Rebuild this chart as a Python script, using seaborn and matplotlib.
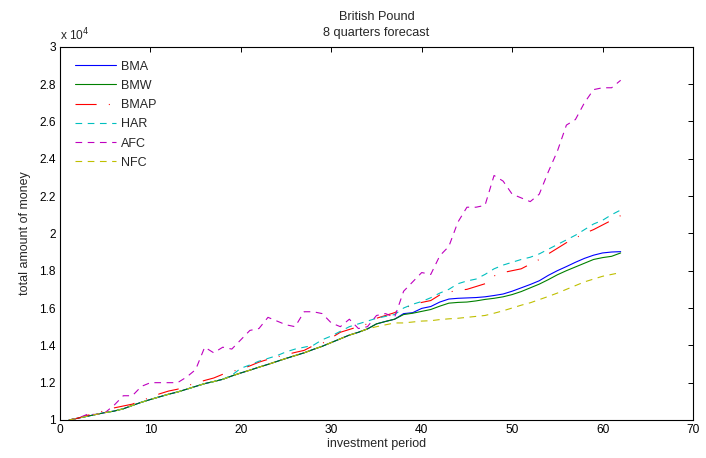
import numpy as np
import pandas as pd
import matplotlib
matplotlib.use("Agg")
import matplotlib.pyplot as plt
import seaborn as sns

# ---- data (total amount of money, per investment period) ----
period = list(range(1, 63))

BMA = [1.000, 1.010, 1.020, 1.030, 1.040, 1.048, 1.060, 1.078, 1.095, 1.110,
       1.124, 1.138, 1.150, 1.165, 1.180, 1.195, 1.206, 1.218, 1.236, 1.252,
       1.267, 1.283, 1.298, 1.314, 1.330, 1.345, 1.360, 1.378, 1.395, 1.415,
       1.435, 1.455, 1.470, 1.488, 1.515, 1.528, 1.540, 1.570, 1.575, 1.598,
       1.608, 1.632, 1.648, 1.652, 1.654, 1.656, 1.660, 1.667, 1.675, 1.690,
       1.708, 1.726, 1.746, 1.775, 1.800, 1.822, 1.845, 1.866, 1.883, 1.895,
       1.900, 1.902]

BMW = [1.000, 1.010, 1.020, 1.030, 1.040, 1.048, 1.060, 1.078, 1.095, 1.110,
       1.124, 1.138, 1.150, 1.165, 1.180, 1.195, 1.206, 1.218, 1.236, 1.252,
       1.267, 1.283, 1.298, 1.314, 1.330, 1.345, 1.360, 1.378, 1.395, 1.415,
       1.435, 1.455, 1.470, 1.488, 1.515, 1.528, 1.540, 1.565, 1.572, 1.582,
       1.592, 1.610, 1.626, 1.630, 1.632, 1.638, 1.646, 1.652, 1.660, 1.672,
       1.688, 1.708, 1.728, 1.752, 1.778, 1.800, 1.820, 1.840, 1.860, 1.870,
       1.877, 1.895]

BMAP = [1.000, 1.010, 1.025, 1.035, 1.052, 1.065, 1.075, 1.085, 1.105, 1.120,
        1.140, 1.155, 1.165, 1.182, 1.198, 1.212, 1.225, 1.245, 1.260, 1.272,
        1.290, 1.310, 1.325, 1.338, 1.350, 1.362, 1.373, 1.398, 1.410, 1.440,
        1.470, 1.485, 1.500, 1.515, 1.545, 1.560, 1.575, 1.600, 1.615, 1.630,
        1.640, 1.670, 1.685, 1.695, 1.700, 1.715, 1.730, 1.772, 1.790, 1.800,
        1.810, 1.835, 1.860, 1.890, 1.920, 1.950, 1.975, 2.000, 2.020, 2.045,
        2.070, 2.095]

HAR = [1.000, 1.010, 1.020, 1.030, 1.040, 1.048, 1.060, 1.078, 1.095, 1.110,
       1.124, 1.138, 1.150, 1.165, 1.180, 1.195, 1.206, 1.218, 1.240, 1.277,
       1.295, 1.315, 1.330, 1.345, 1.365, 1.380, 1.390, 1.400, 1.430, 1.450,
       1.475, 1.500, 1.515, 1.530, 1.545, 1.555, 1.565, 1.600, 1.620, 1.635,
       1.655, 1.680, 1.700, 1.730, 1.745, 1.755, 1.780, 1.810, 1.830, 1.845,
       1.860, 1.872, 1.890, 1.915, 1.940, 1.965, 1.990, 2.020, 2.050, 2.070,
       2.100, 2.125]

AFC = [1.000, 1.010, 1.030, 1.030, 1.040, 1.080, 1.130, 1.130, 1.180, 1.200,
       1.200, 1.200, 1.200, 1.230, 1.270, 1.390, 1.360, 1.390, 1.380, 1.430,
       1.480, 1.490, 1.550, 1.530, 1.510, 1.500, 1.580, 1.580, 1.570, 1.520,
       1.500, 1.540, 1.490, 1.500, 1.560, 1.570, 1.550, 1.690, 1.740, 1.790,
       1.780, 1.880, 1.930, 2.060, 2.140, 2.140, 2.150, 2.310, 2.280, 2.210,
       2.190, 2.170, 2.210, 2.330, 2.440, 2.580, 2.610, 2.700, 2.770, 2.780,
       2.780, 2.820]

NFC = [1.000, 1.010, 1.020, 1.030, 1.040, 1.048, 1.060, 1.078, 1.095, 1.110,
       1.124, 1.138, 1.150, 1.165, 1.180, 1.195, 1.206, 1.218, 1.236, 1.252,
       1.267, 1.283, 1.298, 1.314, 1.330, 1.345, 1.360, 1.378, 1.395, 1.415,
       1.435, 1.455, 1.470, 1.488, 1.500, 1.510, 1.520, 1.520, 1.525, 1.530,
       1.532, 1.538, 1.542, 1.545, 1.550, 1.555, 1.560, 1.572, 1.585, 1.600,
       1.615, 1.628, 1.645, 1.662, 1.680, 1.700, 1.720, 1.740, 1.755, 1.770,
       1.780, 1.790]

series_names = ["BMA", "BMW", "BMAP", "HAR", "AFC", "NFC"]
series_values = [BMA, BMW, BMAP, HAR, AFC, NFC]  # in units of 10^4

x_ticks = [0, 10, 20, 30, 40, 50, 60, 70]
y_ticks = [1.0, 1.2, 1.4, 1.6, 1.8, 2.0, 2.2, 2.4, 2.6, 2.8, 3.0]
y_tick_labels = ["1", "1.2", "1.4", "1.6", "1.8", "2", "2.2", "2.4", "2.6", "2.8", "3"]

# ---- style ----
sns.set_style("white")
plt.rcParams["font.family"] = ["Liberation Sans", "DejaVu Sans"]

colors = {
    "BMA": (0.0, 0.0, 1.0),
    "BMW": (0.0, 0.5, 0.0),
    "BMAP": (1.0, 0.0, 0.0),
    "HAR": (0.0, 0.75, 0.75),
    "AFC": (0.75, 0.0, 0.75),
    "NFC": (0.75, 0.75, 0.0),
}
lw = 0.8
dash_styles = {
    "BMA": None,
    "BMW": None,
    "BMAP": (19, 11, 0.9, 11),
    "HAR": (6, 5),
    "AFC": (6, 5),
    "NFC": (6, 5),
}

fig = plt.figure(figsize=(7.06, 4.58), dpi=100)
ax = fig.add_axes([60 / 706, 1 - 420 / 458, (693 - 60) / 706, (420 - 46.7) / 458])

for name, vals in zip(series_names, series_values):
    df = pd.DataFrame({"period": period, "money": vals})
    sns.lineplot(data=df, x="period", y="money", ax=ax, color=colors[name],
                 linewidth=lw, label=name, legend=False)
    line = ax.lines[-1]
    if dash_styles[name] is not None:
        line.set_dashes(dash_styles[name])

ax.set_xlim(0, 70)
ax.set_ylim(1, 3)
ax.set_xticks(x_ticks)
ax.set_yticks(y_ticks)
ax.set_yticklabels(y_tick_labels)

fs = 8.6
ax.tick_params(direction="in", length=3.6, width=0.7, top=True, right=True,
               labelsize=fs, colors="black", pad=3)
for sp in ax.spines.values():
    sp.set_linewidth(0.8)
    sp.set_color("black")

ax.set_xlabel("investment period", fontsize=9, labelpad=1)
ax.set_ylabel("total amount of money", fontsize=9, labelpad=6)
ax.set_title("British Pound\n8 quarters forecast", fontsize=9.2, pad=8, linespacing=1.35)
ax.text(0.0, 1.008, r"x 10$^4$", transform=ax.transAxes, fontsize=fs,
        ha="left", va="bottom")

leg = ax.legend(loc="upper left", frameon=False, fontsize=9, handlelength=3.3,
                handletextpad=0.35, labelspacing=0.58, borderaxespad=0.5,
                bbox_to_anchor=(0.006, 0.993))

fig.savefig("out.png", dpi=100, facecolor="white")
